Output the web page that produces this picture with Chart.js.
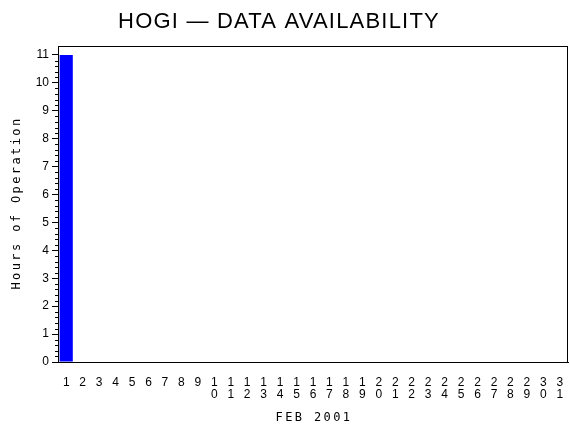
<!DOCTYPE html>
<html>
<head>
<title>HOGI - DATA AVAILABILITY</title>
<script src="https://cdn.jsdelivr.net/npm/chart.js@4"></script>
<style>
  body { margin: 0; background: #fff; }
</style>
</head>
<body>
<canvas id="availChart" width="570" height="430"></canvas>

<script>
// days of the month (x categories)
const days = ['1', '2', '3', '4', '5', '6', '7', '8', '9', '10',
              '11', '12', '13', '14', '15', '16', '17', '18', '19', '20',
              '21', '22', '23', '24', '25', '26', '27', '28', '29', '30', '31'];
// hours of operation per day
const hours = [11, 0, 0, 0, 0, 0, 0, 0, 0, 0,
               0, 0, 0, 0, 0, 0, 0, 0, 0, 0,
               0, 0, 0, 0, 0, 0, 0, 0, 0, 0, 0];
const chartTitle = 'HOGI \u2014 DATA AVAILABILITY';
const xTitle = 'FEB 2001';
const yTitle = 'Hours of Operation';
const yMax = 11.32;

// title, box around the plot, minor ticks and the spaced-out axis titles
const framePlugin = {
  id: 'frame',
  afterDraw(chart) {
    const ctx = chart.ctx;
    const a = chart.chartArea;
    const y = chart.scales.y;
    ctx.save();
    ctx.strokeStyle = '#000';
    ctx.lineWidth = 1;
    const l = Math.round(a.left) + 0.5, t = Math.round(a.top) + 0.5;
    const r = Math.round(a.right) - 0.5, b = Math.round(a.bottom) + 0.5;
    ctx.strokeRect(l, t, r - l, b - t);

    // minor ticks, 5 per unit
    ctx.beginPath();
    for (let i = 1; i < 55; i++) {
      if (i % 5 === 0) continue;
      const py = Math.round(y.getPixelForValue(i / 5)) + 0.5;
      ctx.moveTo(l - 3.5, py);
      ctx.lineTo(l, py);
    }
    ctx.stroke();

    ctx.fillStyle = '#000';
    ctx.textAlign = 'center';
    ctx.textBaseline = 'alphabetic';
    ctx.font = '22px "Liberation Sans"';
    ctx.letterSpacing = '1.2px';
    ctx.fillText(chartTitle, 279, 28);

    ctx.font = '12px "DejaVu Sans Mono"';
    ctx.letterSpacing = '2.4px';
    ctx.textBaseline = 'middle';
    ctx.fillText(xTitle, (a.left + a.right) / 2 + 1, 418);
    ctx.translate(17, (a.top + a.bottom) / 2);
    ctx.rotate(-Math.PI / 2);
    ctx.fillText(yTitle, 1, 0);
    ctx.restore();
  }
};

const ctx = document.getElementById('availChart').getContext('2d');
new Chart(ctx, {
  type: 'bar',
  data: {
    labels: days,
    datasets: [{
      label: yTitle,
      data: hours,
      backgroundColor: '#0000ff',
      borderWidth: 0,
      barPercentage: 0.8,
      categoryPercentage: 1
    }]
  },
  options: {
    responsive: false,
    animation: false,
    layout: { padding: { left: 0, right: 2, top: 46, bottom: 0 } },
    plugins: {
      legend: { display: false },
      tooltip: { enabled: false },
      title: { display: false }
    },
    scales: {
      x: {
        offset: true,
        // no tick marks; the tick length only pushes the labels down
        grid: { display: false, drawTicks: true, tickLength: 12 },
        border: { display: true, color: '#000', width: 1 },
        ticks: {
          autoSkip: false,
          maxRotation: 0,
          minRotation: 0,
          padding: 3,
          color: '#000',
          font: { family: '"Liberation Sans"', size: 12, lineHeight: 1 },
          callback: (v, i) => days[i].split('')
        },
        afterFit: s => { s.height = 68; }
      },
      y: {
        min: 0,
        max: yMax,
        grid: { drawOnChartArea: false, drawTicks: true, tickLength: 6, color: '#000' },
        border: { display: true, color: '#000', width: 1 },
        ticks: {
          stepSize: 1,
          includeBounds: false,
          padding: 3,
          color: '#000',
          font: { family: '"Liberation Sans"', size: 12 }
        },
        afterFit: s => { s.width = 58; }
      }
    }
  },
  plugins: [framePlugin]
});
</script>
</body>
</html>
